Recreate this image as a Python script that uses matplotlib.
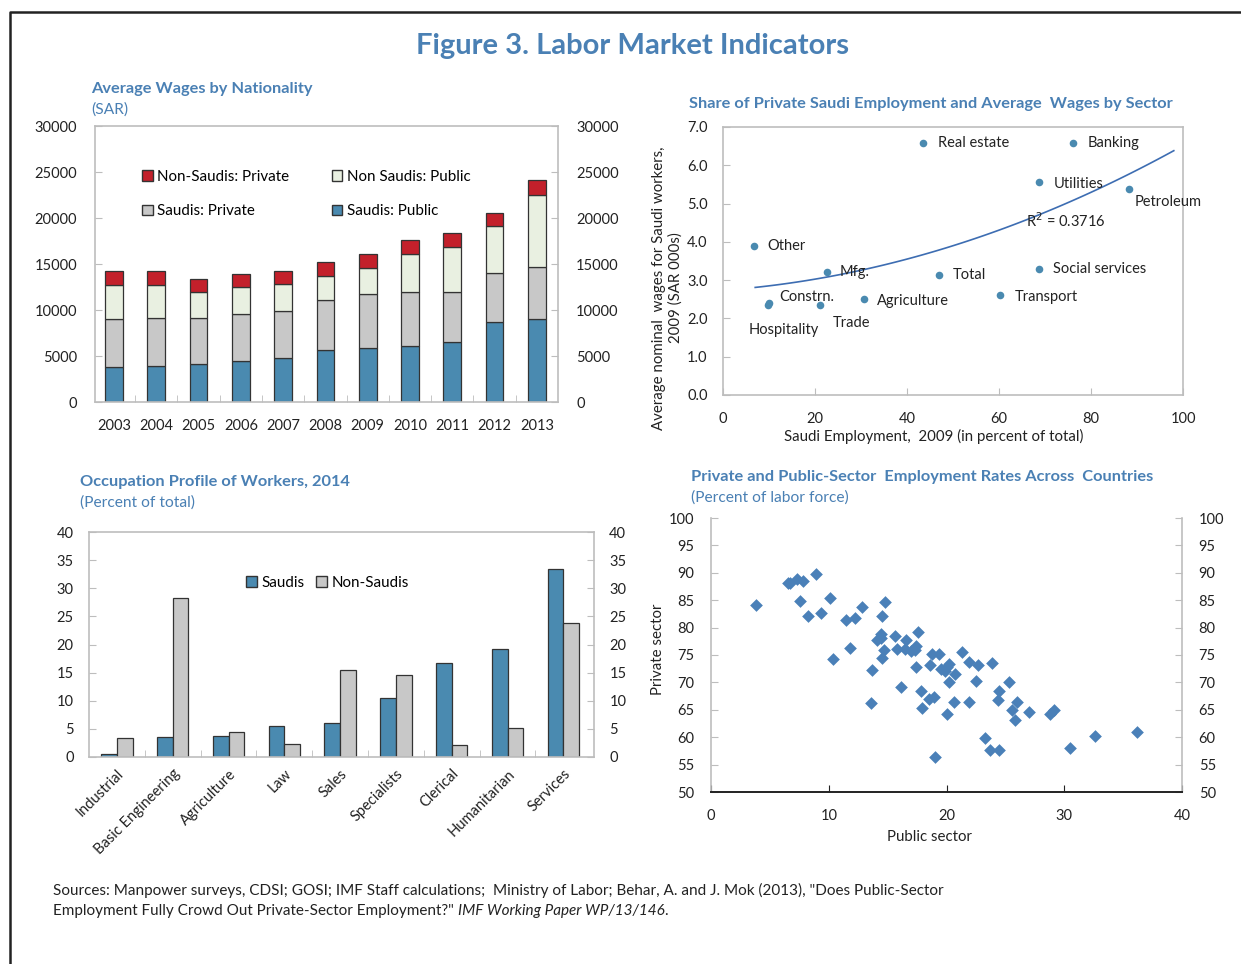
import matplotlib
matplotlib.use("Agg")
import matplotlib.pyplot as plt
import matplotlib.transforms as mtransforms
from matplotlib.patches import Patch
from matplotlib.lines import Line2D
import numpy as np

plt.rcParams["font.family"] = ["Lato", "DejaVu Sans"]
plt.rcParams["font.size"] = 10.5

W, H = 1241, 964
TXT = "#222222"
HEAD = "#4a80b4"
FRAME = "#bdbdbd"
BLUE = "#4a8ab0"
GREY = "#c8c8c8"
RED = "#c3202b"
PALE = "#e9f0e1"
EDGE = "#333333"

# ---- panel 1: average wages by nationality (SAR) ----
years = ["2003", "2004", "2005", "2006", "2007", "2008", "2009", "2010", "2011", "2012", "2013"]
saudi_public = [3800, 3910, 4170, 4420, 4820, 5620, 5830, 6120, 6490, 8700, 9020]
saudi_private = [5220, 5250, 5000, 5150, 5110, 5470, 5910, 5830, 5470, 5330, 5650]
nonsaudi_public = [3730, 3590, 2790, 2930, 2940, 2570, 2790, 4090, 4890, 5070, 7860]
nonsaudi_private = [1450, 1450, 1450, 1410, 1410, 1560, 1590, 1590, 1560, 1490, 1630]

# ---- panel 2: share of saudi employment vs wages by sector ----
sectors = ["Real estate", "Banking", "Utilities", "Petroleum", "Other", "Mfg.", "Total",
           "Social services", "Transport", "Agriculture", "Constrn.", "Trade", "Hospitality"]
saudi_share = [43.5, 76.0, 68.7, 88.3, 6.8, 22.6, 47.0, 68.6, 60.3, 30.7, 10.1, 21.0, 9.8]
saudi_wage = [6.58, 6.58, 5.56, 5.38, 3.88, 3.22, 3.14, 3.29, 2.61, 2.50, 2.41, 2.35, 2.35]
# label offsets in pixels (dx, dy)
label_off = [(15, 0), (15, 0), (15, -2), (5, -13), (13, 0), (13, 0), (14, 0),
             (14, 0), (14, -2), (13, -2), (10, 6), (13, -18), (-19, -25)]
trend_coef = [0.00029, 0.0088, 2.734]   # polynomial trendline
trend_range = [7, 98]

# ---- panel 3: occupation profile 2014 ----
occupations = ["Industrial", "Basic Engineering", "Agriculture", "Law", "Sales",
               "Specialists", "Clerical", "Humanitarian", "Services"]
occ_saudis = [0.6, 3.6, 3.8, 5.5, 6.1, 10.5, 16.8, 19.2, 33.4]
occ_nonsaudis = [3.3, 28.3, 4.5, 2.3, 15.5, 14.5, 2.1, 5.1, 23.8]

# ---- panel 4: private vs public-sector employment across countries ----
public_sector = [3.8, 6.5, 6.7, 7.3, 7.8, 8.9, 7.6, 8.2, 9.3, 10.1, 11.5, 12.2, 12.8,
                 14.8, 14.5, 10.4, 11.8, 14.4, 14.1, 14.4, 14.7, 14.5, 13.7, 15.6,
                 16.6, 17.6, 15.8, 16.5, 17.0, 17.4, 17.3, 17.4, 16.1, 13.6, 18.8,
                 19.4, 18.6, 19.5, 19.9, 20.2, 20.0, 20.7, 20.2, 21.3, 21.9, 22.7,
                 23.9, 22.5, 17.8, 18.5, 18.9, 17.9, 20.6, 21.9, 20.0, 19.0, 23.3,
                 23.7, 24.5, 25.3, 24.5, 24.4, 26.0, 25.6, 25.8, 27.0, 28.8, 29.1,
                 30.5, 32.6, 36.2]
private_sector = [84.2, 88.2, 88.2, 88.8, 88.5, 89.8, 84.9, 82.1, 82.6, 85.4, 81.4,
                  81.7, 83.7, 84.6, 82.1, 74.2, 76.3, 78.8, 77.7, 78.1, 76.0, 74.5,
                  72.3, 78.5, 77.7, 79.2, 76.1, 76.1, 75.7, 76.7, 75.9, 72.9, 69.1,
                  66.3, 75.2, 75.2, 73.2, 72.5, 72.0, 73.4, 72.9, 71.5, 70.1, 75.5,
                  73.8, 73.2, 73.6, 70.2, 68.5, 67.0, 67.4, 65.4, 66.4, 66.4, 64.2,
                  56.4, 59.8, 57.6, 57.6, 70.0, 68.4, 66.7, 66.5, 64.9, 63.2, 64.6,
                  64.2, 64.9, 58.1, 60.2, 60.9]

fig = plt.figure(figsize=(W / 100, H / 100), dpi=100)


def px_axes(l, t, r, b):
    return fig.add_axes([l / W, 1 - b / H, (r - l) / W, (b - t) / H])


def fx(x):
    return x / W


def fy(y):
    return 1 - y / H


def frame(ax, sides=("left", "right", "top", "bottom")):
    for s in ax.spines:
        ax.spines[s].set_visible(s in sides)
        ax.spines[s].set_color(FRAME)
        ax.spines[s].set_linewidth(1.2)


SUB = 11.8   # bold panel headings
SUB2 = 11.2  # units line under headings

# outer border
fig.add_artist(Line2D([fx(10), fx(10), fx(1241)], [fy(964), fy(12), fy(12)],
                      color="#222222", lw=1.8, transform=fig.transFigure))

fig.text(fx(632), fy(46), "Figure 3. Labor Market Indicators", ha="center", va="center",
         fontsize=21, fontweight="bold", color=HEAD)

# ---------------- panel 1 ----------------
ax1 = px_axes(95, 126, 558, 402)
frame(ax1)
x = np.arange(len(years))
bw = 0.42
b1 = np.array(saudi_public)
b2 = b1 + np.array(saudi_private)
b3 = b2 + np.array(nonsaudi_public)
ax1.bar(x, saudi_public, bw, color=BLUE, edgecolor=EDGE, lw=0.9)
ax1.bar(x, saudi_private, bw, bottom=b1, color=GREY, edgecolor=EDGE, lw=0.9)
ax1.bar(x, nonsaudi_public, bw, bottom=b2, color=PALE, edgecolor=EDGE, lw=0.9)
ax1.bar(x, nonsaudi_private, bw, bottom=b3, color=RED, edgecolor=EDGE, lw=0.9)
ax1.set_xlim(-0.45, len(years) - 0.5)
ax1.set_ylim(0, 30000)
ax1.set_yticks(range(0, 30001, 5000))
ax1.set_xticks(x)
ax1.set_xticklabels(years)
ax1.set_xticks(x[:-1] + 0.5, minor=True)
ax1.tick_params(axis="y", direction="in", left=True, right=True, labelright=True,
                length=5, color=FRAME, pad=13, labelcolor=TXT)
ax1.tick_params(axis="x", which="major", length=0, pad=12, labelcolor=TXT)
ax1.tick_params(axis="x", which="minor", direction="in", length=5, color=FRAME)
h1 = [Patch(facecolor=RED, edgecolor=EDGE), Patch(facecolor=GREY, edgecolor=EDGE),
      Patch(facecolor=PALE, edgecolor=EDGE), Patch(facecolor=BLUE, edgecolor=EDGE)]
ax1.legend(h1, ["Non-Saudis: Private", "Saudis: Private", "Non Saudis: Public", "Saudis: Public"],
           ncol=2, loc="upper left", bbox_to_anchor=(fx(142), fy(170)), bbox_transform=fig.transFigure,
           frameon=False, fontsize=10.9, handlelength=0.7, handleheight=0.7, handletextpad=0.3,
           columnspacing=2.8, labelspacing=1.35, borderpad=0, borderaxespad=0)
fig.text(fx(91), fy(89), "Average Wages by Nationality", fontsize=SUB, fontweight="bold",
         color=HEAD, va="center")
fig.text(fx(91), fy(110), "(SAR)", fontsize=SUB2, color=HEAD, va="center")

# ---------------- panel 2 ----------------
ax2 = px_axes(723, 127, 1183, 395)
frame(ax2)
ax2.scatter(saudi_share, saudi_wage, s=30, color=BLUE, zorder=3, linewidths=0)
tx = np.linspace(trend_range[0], trend_range[1], 100)
ax2.plot(tx, np.polyval(trend_coef, tx), color="#3d6db2", lw=1.2, zorder=2)
for name, sx, sy, off in zip(sectors, saudi_share, saudi_wage, label_off):
    ax2.annotate(name, (sx, sy), xytext=off, textcoords="offset pixels",
                 ha="left", va="center", fontsize=10.5, color=TXT)
ax2.text(65.8, 4.55, "R$^2$ = 0.3716", ha="left", va="center", fontsize=10.5, color=TXT)
ax2.set_xlim(0, 100)
ax2.set_ylim(0, 7)
ax2.set_xticks(range(0, 101, 20))
ax2.set_yticks(np.arange(0, 7.01, 1.0))
ax2.set_yticklabels([f"{v:.1f}" for v in np.arange(0, 7.01, 1.0)])
ax2.tick_params(axis="y", direction="in", length=5, color=FRAME, pad=11, labelcolor=TXT)
ax2.tick_params(axis="x", direction="in", length=5, color=FRAME, pad=12, labelcolor=TXT)
ax2.set_xlabel("Saudi Employment,  2009 (in percent of total)", fontsize=10.8, color=TXT)
ax2.xaxis.set_label_coords(0.457, -0.127)
ax2.set_ylabel("Average nominal  wages for Saudi workers,\n2009 (SAR 000s)", fontsize=10.8,
               color=TXT, linespacing=1.25)
ax2.yaxis.set_label_coords(-0.087, 0.40)
fig.text(fx(689), fy(104), "Share of Private Saudi Employment and Average  Wages by Sector",
         fontsize=SUB, fontweight="bold", color=HEAD, va="center")

# ---------------- panel 3 ----------------
ax3 = px_axes(89, 532, 594, 757)
frame(ax3)
xo = np.arange(len(occupations))
ow = 0.28
ax3.bar(xo - ow / 2, occ_saudis, ow, color=BLUE, edgecolor=EDGE, lw=0.9)
ax3.bar(xo + ow / 2, occ_nonsaudis, ow, color=GREY, edgecolor=EDGE, lw=0.9)
ax3.set_xlim(-0.5, len(occupations) - 0.45)
ax3.set_ylim(0, 40)
ax3.set_yticks(range(0, 41, 5))
ax3.set_xticks(xo)
ax3.set_xticklabels(occupations, rotation=45, ha="right", va="top", rotation_mode="anchor")
shift = mtransforms.ScaledTranslation(5 / 100, 0, fig.dpi_scale_trans)
for lab in ax3.get_xticklabels():
    lab.set_transform(lab.get_transform() + shift)
ax3.set_xticks(xo[:-1] + 0.5, minor=True)
ax3.tick_params(axis="y", direction="in", left=True, right=True, labelright=True,
                length=5, color=FRAME, pad=11, labelcolor=TXT)
ax3.tick_params(axis="x", which="major", length=0, pad=7, labelcolor=TXT)
ax3.tick_params(axis="x", which="minor", direction="in", length=5, color=FRAME)
h3 = [Patch(facecolor=BLUE, edgecolor=EDGE), Patch(facecolor=GREY, edgecolor=EDGE)]
ax3.legend(h3, ["Saudis", "Non-Saudis"], ncol=2, loc="upper left",
           bbox_to_anchor=(fx(246), fy(576)), bbox_transform=fig.transFigure,
           frameon=False, fontsize=10.9, handlelength=0.7, handleheight=0.7, handletextpad=0.3,
           columnspacing=0.8, borderpad=0, borderaxespad=0)
fig.text(fx(80), fy(482), "Occupation Profile of Workers, 2014", fontsize=SUB,
         fontweight="bold", color=HEAD, va="center")
fig.text(fx(80), fy(503), "(Percent of total)", fontsize=SUB2, color=HEAD, va="center")

# ---------------- panel 4 ----------------
ax4 = px_axes(711, 518, 1182, 792)
frame(ax4, sides=("left", "right", "bottom"))
ax4.spines["bottom"].set_color("#222222")
ax4.spines["bottom"].set_linewidth(1.4)
ax4.scatter(public_sector, private_sector, marker="D", s=42, color="#4a80b8", linewidths=0, zorder=3)
ax4.set_xlim(0, 40)
ax4.set_ylim(50, 100)
ax4.set_xticks(range(0, 41, 10))
ax4.set_yticks(range(50, 101, 5))
ax4.tick_params(axis="y", direction="in", left=True, right=True, labelright=True,
                length=5, color=FRAME, pad=12, labelcolor=TXT)
ax4.tick_params(axis="x", direction="in", length=5, color="#222222", pad=12, labelcolor=TXT)
ax4.set_xlabel("Public sector", fontsize=10.8, color=TXT)
ax4.xaxis.set_label_coords(0.463, -0.138)
ax4.set_ylabel("Private sector", fontsize=10.8, color=TXT)
ax4.yaxis.set_label_coords(-0.098, 0.52)
fig.text(fx(691), fy(477), "Private and Public-Sector  Employment Rates Across  Countries",
         fontsize=SUB, fontweight="bold", color=HEAD, va="center")
fig.text(fx(691), fy(498), "(Percent of labor force)", fontsize=SUB2, color=HEAD, va="center")

# ---------------- sources ----------------
FN = 11
fig.text(fx(53), fy(890), "Sources: Manpower surveys, CDSI; GOSI; IMF Staff calculations;  Ministry of Labor; "
         "Behar, A. and J. Mok (2013), \"Does Public-Sector", fontsize=FN, color=TXT, va="center")
t2 = fig.text(fx(53), fy(911), "Employment Fully Crowd Out Private-Sector Employment?\" ",
              fontsize=FN, color=TXT, va="center")
renderer = fig.canvas.get_renderer()
e2 = t2.get_window_extent(renderer)
t3 = fig.text(e2.x1 / W, fy(911), "IMF Working Paper WP/13/146", fontsize=FN, color=TXT,
              va="center", style="italic")
e3 = t3.get_window_extent(renderer)
fig.text(e3.x1 / W, fy(911), ".", fontsize=FN, color=TXT, va="center")

fig.savefig("out.png", dpi=100)
